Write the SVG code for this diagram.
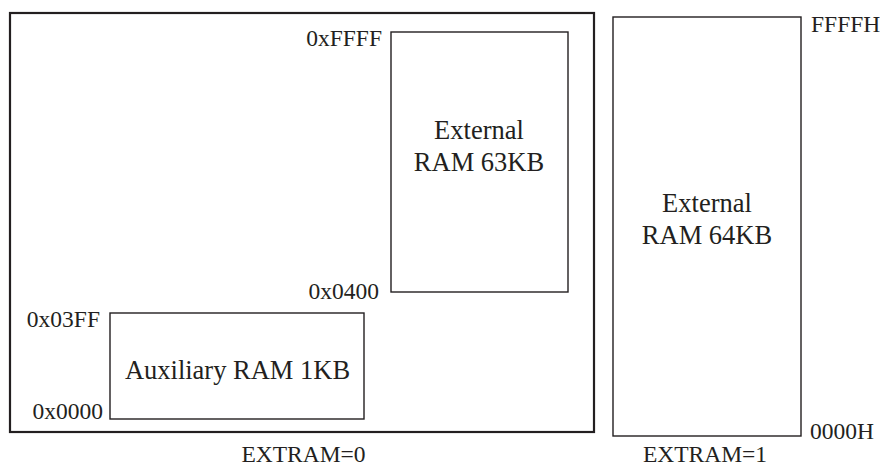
<svg xmlns="http://www.w3.org/2000/svg" width="880" height="466" viewBox="0 0 880 466">
<style>
.t{font-family:"Liberation Serif","Times New Roman",serif;fill:#231f20}
.lbl{font-size:23.5px}
.big{font-size:26.5px}
.box{fill:none;stroke:#231f20;stroke-width:1.4}
.outer{fill:none;stroke:#231f20;stroke-width:2.2}
</style>
<rect width="880" height="466" fill="#fff"/>
<g id="extram0">
<rect class="outer" x="10" y="13" width="584" height="419"/>
<text class="t lbl" x="303.5" y="462" text-anchor="middle">EXTRAM=0</text>
</g>
<g id="ext63">
<rect class="box" x="391" y="32" width="177" height="260"/>
<text class="t big" x="479" y="139" text-anchor="middle">External</text>
<text class="t big" x="479" y="171" text-anchor="middle">RAM 63KB</text>
<text class="t lbl" x="382" y="46" text-anchor="end">0xFFFF</text>
<text class="t lbl" x="379" y="299" text-anchor="end">0x0400</text>
</g>
<g id="aux1">
<rect class="box" x="110" y="313" width="254" height="106"/>
<text class="t big" x="237.5" y="379" text-anchor="middle">Auxiliary RAM 1KB</text>
<text class="t lbl" x="100" y="327" text-anchor="end">0x03FF</text>
<text class="t lbl" x="103" y="419" text-anchor="end">0x0000</text>
</g>
<g id="ext64">
<rect class="box" x="613" y="17" width="188" height="419"/>
<text class="t big" x="707" y="212" text-anchor="middle">External</text>
<text class="t big" x="707" y="244" text-anchor="middle">RAM 64KB</text>
<text class="t lbl" x="811" y="32">FFFFH</text>
<text class="t lbl" x="810" y="439">0000H</text>
<text class="t lbl" x="705" y="462" text-anchor="middle">EXTRAM=1</text>
</g>
<g id="connectors"></g>
</svg>
